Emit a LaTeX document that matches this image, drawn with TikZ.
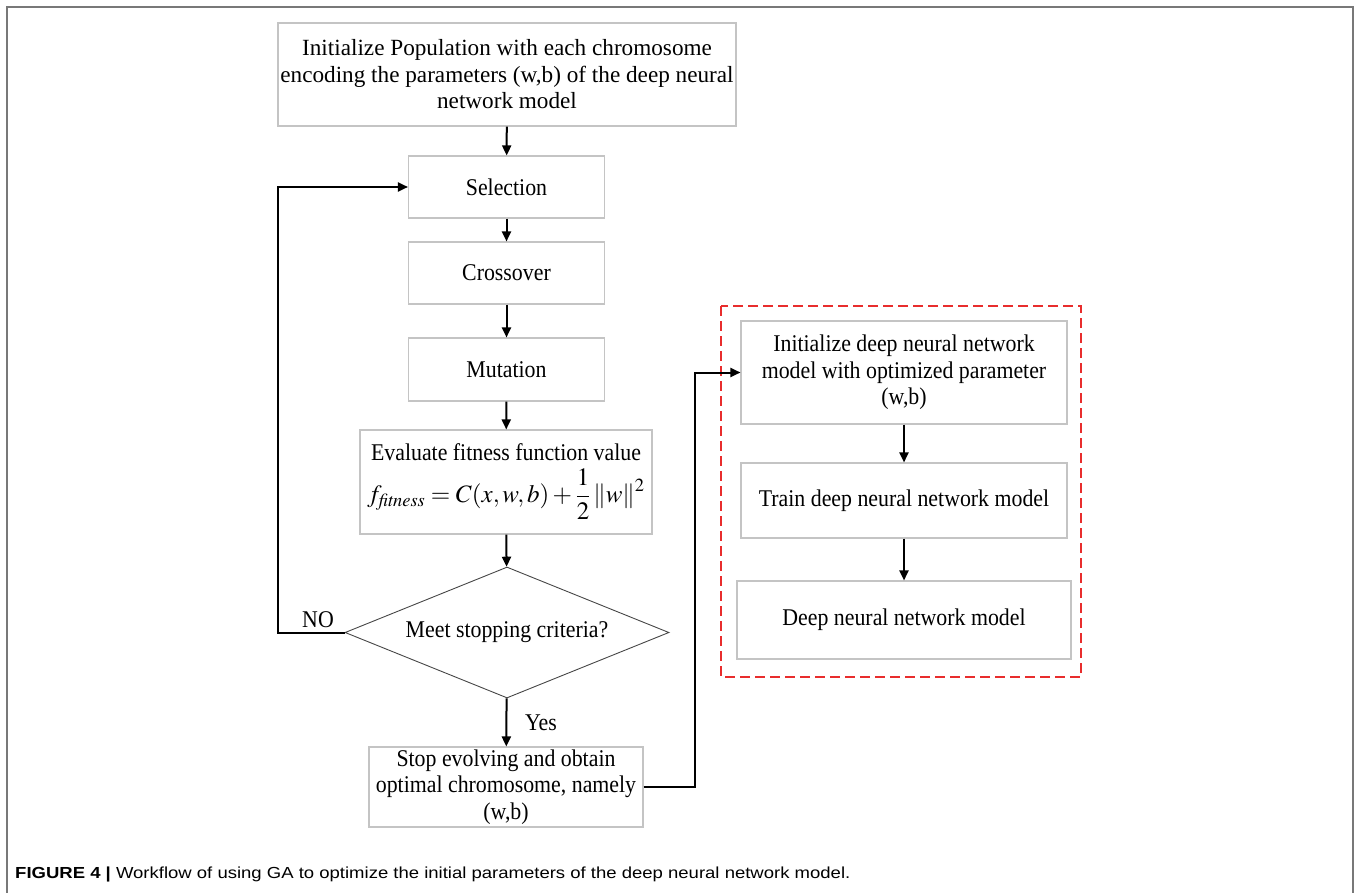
\documentclass[tikz,border=0pt]{standalone}
\usepackage{mathptmx}
\usepackage{fontspec}
\setmainfont{Liberation Serif}[FakeStretch=0.91]
\newfontfamily\widefont{Liberation Serif}
\newfontfamily\capfont{Liberation Sans}[FakeStretch=1.157]
\usepackage{xcolor}
\definecolor{boxgray}{RGB}{196,196,196}
\definecolor{diagray}{RGB}{70,70,70}
\definecolor{framegray}{RGB}{120,120,120}
\definecolor{dashred}{RGB}{232,45,45}
\usetikzlibrary{arrows.meta,positioning,shapes.geometric}

\begin{document}
\begin{tikzpicture}[x=1pt,y=-1pt,
  stepbox/.style={draw=boxgray,line width=1.1pt,inner sep=2pt,align=center,font=\fontsize{24}{26.5}\selectfont},
  decide/.style={draw=diagray,line width=0.9pt,diamond,aspect=2.47,inner sep=0pt,minimum width=324pt,minimum height=131pt,font=\fontsize{24}{26.5}\selectfont},
  flow/.style={-{Triangle[length=10pt,width=9pt]},line width=2pt},
  lbl/.style={font=\fontsize{24}{26.5}\selectfont}]
  \useasboundingbox (0,0) rectangle (1356,893);
  % outer frame
  \draw[framegray,line width=1.6pt] (7,893) -- (7,7) -- (1353,7) -- (1353,893);
  % GA loop
  \node[stepbox,minimum width=458pt,minimum height=103pt,inner sep=0pt,font=\widefont\fontsize{23.2}{26.5}\selectfont] (pop) at (507,74.5) {Initialize Population with each chromosome\\encoding the parameters (w,b) of the deep neural\\network model};
  \node[stepbox,minimum width=196pt,minimum height=62pt] (sel) at (506.5,187) {Selection};
  \node[stepbox,minimum width=196pt,minimum height=62pt] (cross) at (506.5,273) {Crossover};
  \node[stepbox,minimum width=196pt,minimum height=63pt] (mut) at (506.5,369.5) {Mutation};
  \node[stepbox,minimum width=292pt,minimum height=104pt,inner sep=0pt] (eval) at (506,482) {Evaluate fitness function value\\[7pt]
    \fontsize{25}{28}\selectfont$\displaystyle f_{\mathit{fitness}}=C(x,w,b)+\frac{1}{2}\left\|w\right\|^{2}$};
  \node[decide] (crit) at (507,632.5) {Meet stopping criteria?};
  \node[stepbox,minimum width=274pt,minimum height=80pt] (stop) at (506,787) {Stop evolving and obtain\\optimal chromosome, namely\\(w,b)};
  \draw[flow] (pop) -- (sel);
  \draw[flow] (sel) -- (cross);
  \draw[flow] (cross) -- (mut);
  \draw[flow] (mut) -- (eval);
  \draw[flow] (eval) -- (crit);
  \draw[flow] (crit) -- (stop);
  \coordinate (back) at (278,632.5);
  \draw[flow] (crit.west) -- (back) |- (sel.west);
  \node[lbl] (no) at (318,620) {NO};
  \node[lbl] (yes) at (541,723) {Yes};
  % network part
  \draw[dashred,line width=1.5pt,dash pattern=on 10pt off 5pt] (721,306) rectangle (1081,677);
  \node[stepbox,minimum width=326pt,minimum height=103pt] (dinit) at (904,372.5) {Initialize deep neural network\\model with optimized parameter\\(w,b)};
  \node[stepbox,minimum width=326pt,minimum height=75pt] (dtrain) at (904,500.5) {Train deep neural network model};
  \node[stepbox,minimum width=334pt,minimum height=78pt] (dnn) at (904,620) {Deep neural network model};
  \draw[flow] (dinit) -- (dtrain);
  \draw[flow] (dtrain) -- (dnn);
  \coordinate (link) at (695,787);
  \draw[flow] (stop.east) -- (link) |- (dinit.west);
  % caption
  \node[anchor=base west,inner sep=0pt,font=\capfont\fontsize{16}{18}\selectfont] (cap) at (15,878) {\textbf{FIGURE 4 |} Workflow of using GA to optimize the initial parameters of the deep neural network model.};
\end{tikzpicture}
\end{document}
